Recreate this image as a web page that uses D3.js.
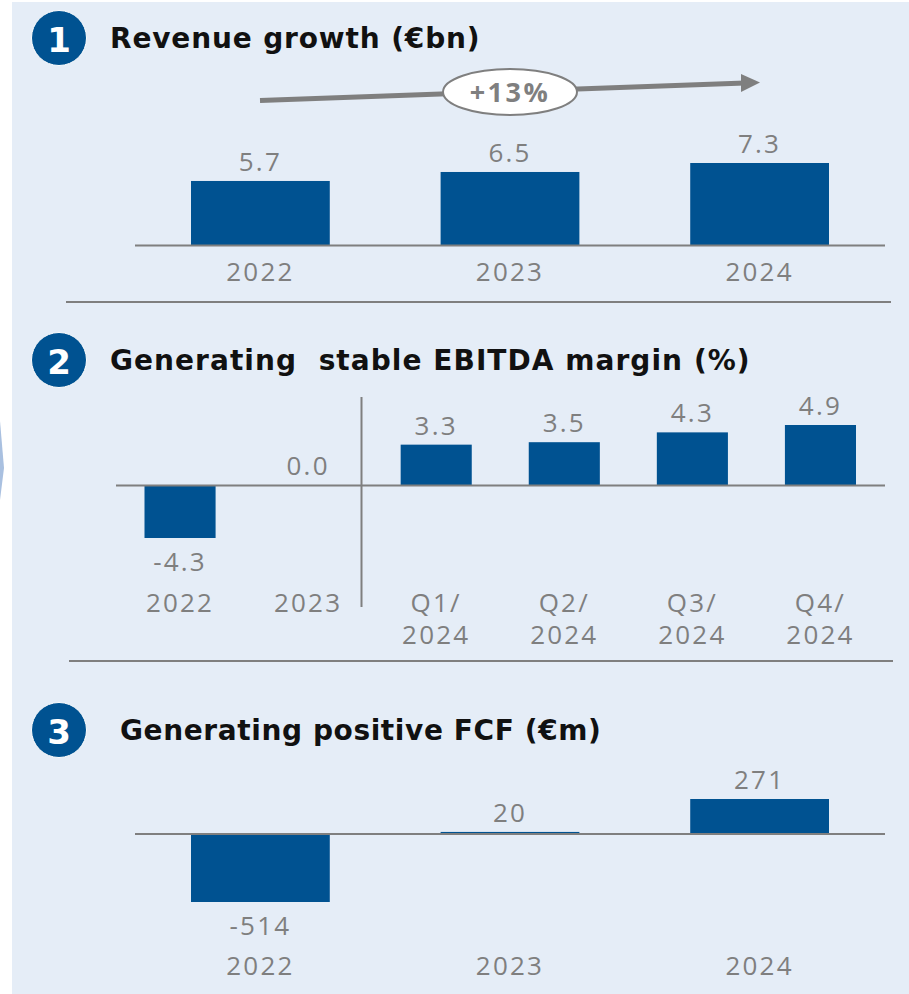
<!DOCTYPE html>
<html><head><meta charset="utf-8">
<script src="https://cdnjs.cloudflare.com/ajax/libs/d3/7.8.5/d3.min.js"></script>
<style>html,body{margin:0;padding:0;background:#fff}svg{display:block}
.t{font-family:"DejaVu Sans",sans-serif;font-weight:700;font-size:28px;fill:#111;white-space:pre}
.l{font-family:"Open Sans",sans-serif;font-size:26px;fill:#7f7f7f;letter-spacing:2.2px}
</style></head><body><svg id="c" width="909" height="994"></svg>
<script>
const revenueYears=["2022","2023","2024"];
const revenueValues=[5.7,6.5,7.3];
const revenueLabels=["5.7","6.5","7.3"];
const marginCats=["2022","2023","Q1/|2024","Q2/|2024","Q3/|2024","Q4/|2024"];
const marginValues=[-4.3,0,3.3,3.5,4.3,4.9];
const marginLabels=["-4.3","0.0","3.3","3.5","4.3","4.9"];
const fcfYears=["2022","2023","2024"];
const fcfValues=[-514,20,271];
const fcfLabels=["-514","20","271"];
const BLUE="#005291",GREY="#7f7f7f";
const svg=d3.select("#c");
svg.append("path").attr("d","M0 421L4 468L0 500Z").attr("fill","#a9c0e0");
svg.append("rect").attr("x",12).attr("y",2).attr("width",897).attr("height",992).attr("fill","#e5edf7");

function heading(n,title,cy,tx,sp){
  svg.append("circle").attr("cx",59).attr("cy",cy).attr("r",27.5).attr("fill",BLUE).attr("stroke","#fff").attr("stroke-width",1);
  svg.append("text").attr("x",59).attr("y",cy+14).attr("text-anchor","middle").attr("font-family","DejaVu Sans").attr("font-weight",700).attr("font-size",34).attr("fill","#fff").text(n);
  svg.append("text").attr("class","t").attr("x",tx).attr("y",cy+10).attr("letter-spacing",sp+"px").text(title);
}
function label(x,y,s,lh){
  const t=svg.append("text").attr("class","l").attr("text-anchor","middle");
  s.split("|").forEach((p,j)=>t.append("tspan").attr("x",x).attr("y",y+j*(lh||0)).text(p));
}
function rule(x1,x2,y,w){svg.append("line").attr("x1",x1).attr("x2",x2).attr("y1",y).attr("y2",y).attr("stroke",GREY).attr("stroke-width",w||2);}
function chart(o){
  const x=d3.scaleBand().domain(o.cats).range(o.xr).paddingInner(o.pad).paddingOuter(0);
  const y=d3.scaleLinear().domain(o.dom).range(o.yr);
  svg.append("g").selectAll("rect").data(o.vals).join("rect")
    .attr("x",(d,i)=>x(o.cats[i])).attr("width",x.bandwidth())
    .attr("y",d=>Math.min(y(d),y(0))).attr("height",d=>Math.abs(y(d)-y(0)))
    .attr("fill",BLUE);
  o.vals.forEach((d,i)=>{
    const cx=x(o.cats[i])+x.bandwidth()/2;
    label(cx,d<0?y(d)+33:y(d)-10,o.labels[i]);
    label(cx,o.catY,o.cats[i],o.lh);
  });
  return {x,y};
}
heading("1","Revenue growth (€bn)",38,110,0.85);
chart({cats:revenueYears,vals:revenueValues,labels:revenueLabels,xr:[191,829],pad:0.444,dom:[0,7.3],yr:[245,163],catY:281,lh:0});
rule(135,885,245.5);
rule(66,891,302);
// growth arrow
svg.append("line").attr("x1",260).attr("y1",100.5).attr("x2",745).attr("y2",83).attr("stroke",GREY).attr("stroke-width",5);
svg.append("path").attr("d","M741 74L760 82.5L741 92Z").attr("fill",GREY);
svg.append("ellipse").attr("cx",510).attr("cy",92).attr("rx",67).attr("ry",23).attr("fill","#fff").attr("stroke",GREY).attr("stroke-width",2);
svg.append("text").attr("class","l").attr("x",510).attr("y",102).attr("text-anchor","middle").attr("style","font-size:27px;font-weight:700;letter-spacing:2.5px").text("+13%");

heading("2","Generating  stable EBITDA margin (%)",360,110,1.05);
chart({cats:marginCats,vals:marginValues,labels:marginLabels,xr:[144.5,856],pad:0.445,dom:[-4.3,4.9],yr:[538,425],catY:612,lh:32});
rule(116,885,485.5);
svg.append("line").attr("x1",361.5).attr("x2",361.5).attr("y1",397).attr("y2",607).attr("stroke",GREY).attr("stroke-width",2);
rule(69,893,661);

heading("3","Generating positive FCF (€m)",730,120,0.6);
chart({cats:fcfYears,vals:fcfValues,labels:fcfLabels,xr:[191,829],pad:0.444,dom:[-514,271],yr:[902,799],catY:975,lh:0});
rule(135,885,834);
</script></body></html>
